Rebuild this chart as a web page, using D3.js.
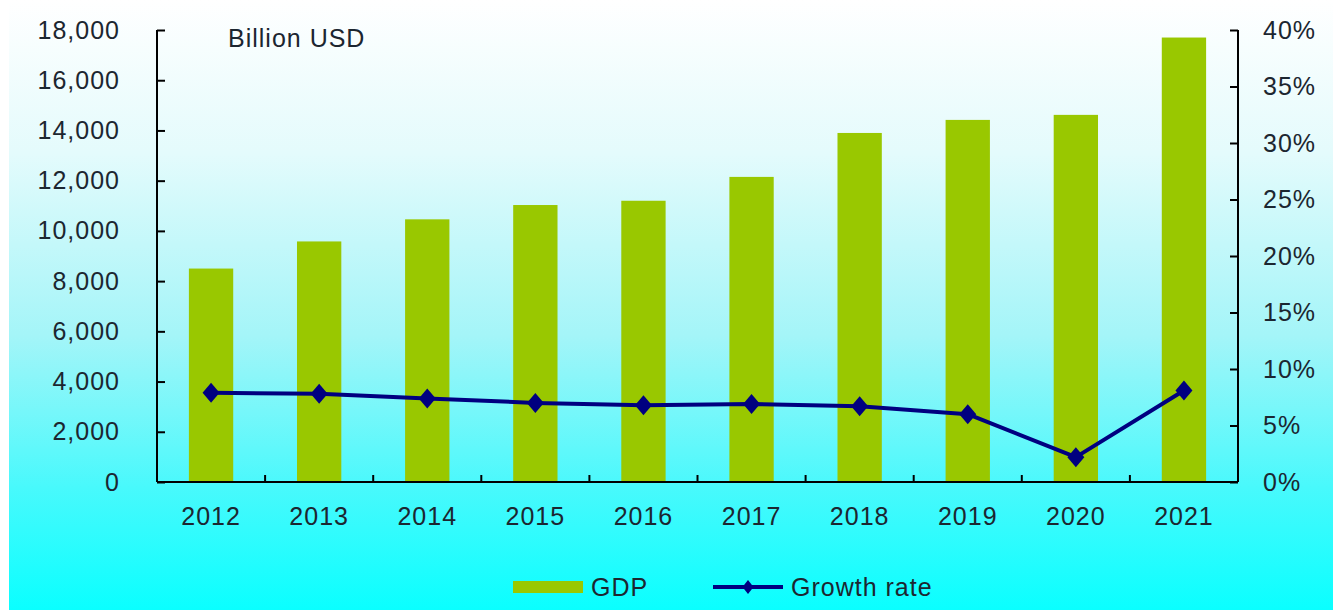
<!DOCTYPE html>
<html>
<head>
<meta charset="utf-8">
<script src="https://cdn.jsdelivr.net/npm/d3@7"></script>
<style>
  html, body { margin: 0; padding: 0; background: #fff; }
  svg { display: block; }
  text { font-family: "Liberation Sans", Arial, sans-serif; fill: #1c2630; }
</style>
</head>
<body>
<svg id="chart" width="1333" height="610"></svg>
<script>
// GDP (billion USD) and annual growth rate by year
const years = ["2012", "2013", "2014", "2015", "2016", "2017", "2018", "2019", "2020", "2021"];
const gdp = [8500, 9580, 10460, 11030, 11200, 12150, 13900, 14420, 14620, 17700];
const growth = [7.9, 7.8, 7.4, 7.0, 6.8, 6.9, 6.7, 6.0, 2.2, 8.1];
const gdpTicks = [0, 2000, 4000, 6000, 8000, 10000, 12000, 14000, 16000, 18000];
const rateTicks = [0, 5, 10, 15, 20, 25, 30, 35, 40];
const unitLabel = "Billion USD";
const seriesNames = ["GDP", "Growth rate"];

const W = 1333, H = 610;
const plotLeft = 157, plotRight = 1238, plotTop = 30, plotBottom = 482;
const barColor = "#99c800";
const lineColor = "#000080";

const svg = d3.select("#chart");

// background gradient: white at the top fading to cyan at the bottom
const defs = svg.append("defs");
const grad = defs.append("linearGradient")
  .attr("id", "bg").attr("x1", 0).attr("y1", 0).attr("x2", 0).attr("y2", 1);
grad.append("stop").attr("offset", "0%").attr("stop-color", "#ffffff");
grad.append("stop").attr("offset", "25%").attr("stop-color", "#e4fbfc");
grad.append("stop").attr("offset", "55%").attr("stop-color", "#a4f5f8");
grad.append("stop").attr("offset", "80%").attr("stop-color", "#48f9fc");
grad.append("stop").attr("offset", "100%").attr("stop-color", "#0affff");
svg.append("rect").attr("x", 9).attr("y", 0).attr("width", W - 9).attr("height", H).attr("fill", "url(#bg)");

const x = d3.scaleBand().domain(years).range([plotLeft, plotRight]).paddingInner(0.59).paddingOuter(0.295);
const yL = d3.scaleLinear().domain([0, 18000]).range([plotBottom, plotTop]);
const yR = d3.scaleLinear().domain([0, 40]).range([plotBottom, plotTop]);
const cx = d => x(d) + x.bandwidth() / 2;

// diamond marker path, slightly taller than wide
const diamondPath = (w, h) => `M0,${-h / 2}L${w / 2},0L0,${h / 2}L${-w / 2},0Z`;

// bars
svg.append("g").selectAll("rect").data(years).join("rect")
  .attr("x", d => x(d))
  .attr("width", x.bandwidth())
  .attr("y", (d, i) => yL(gdp[i]))
  .attr("height", (d, i) => yL(0) - yL(gdp[i]))
  .attr("fill", barColor);

// value axes, ticks pointing into the plot
const fmt = d3.format(",");
const axisL = svg.append("g").attr("transform", `translate(${plotLeft},0)`)
  .call(d3.axisLeft(yL).tickValues(gdpTicks).tickSize(-8).tickPadding(37).tickFormat(fmt));
const axisR = svg.append("g").attr("transform", `translate(${plotRight},0)`)
  .call(d3.axisRight(yR).tickValues(rateTicks).tickSize(-8).tickPadding(25).tickFormat(d => d + "%"));

[axisL, axisR].forEach(a => {
  a.select(".domain").attr("stroke", "#000").attr("stroke-width", 2)
    .attr("d", `M0,${plotBottom}V${plotTop}`);
  a.selectAll(".tick line").attr("stroke", "#000").attr("stroke-width", 2);
  a.selectAll(".tick text").attr("font-size", 25).attr("letter-spacing", 1)
    .attr("font-family", "Liberation Sans, Arial, sans-serif").attr("fill", "#1c2630");
});

// category axis with ticks on the category boundaries
const xb = svg.append("g").attr("transform", `translate(0,${plotBottom})`);
xb.append("line").attr("x1", plotLeft).attr("x2", plotRight).attr("stroke", "#000").attr("stroke-width", 2);
const step = x.step();
xb.selectAll("line.tk").data(d3.range(1, years.length)).join("line")
  .attr("class", "tk")
  .attr("x1", i => plotLeft + i * step).attr("x2", i => plotLeft + i * step)
  .attr("y1", 0).attr("y2", -7)
  .attr("stroke", "#000").attr("stroke-width", 2);
xb.selectAll("text").data(years).join("text")
  .attr("x", cx)
  .attr("y", 43)
  .attr("text-anchor", "middle")
  .attr("font-size", 25)
  .attr("letter-spacing", 1)
  .text(d => d);

// unit label
svg.append("text").attr("x", 228).attr("y", 47).attr("font-size", 25).attr("letter-spacing", 1).text(unitLabel);

// growth rate line with diamond markers
const line = d3.line()
  .x((d, i) => cx(years[i]))
  .y(d => yR(d));
svg.append("path").datum(growth)
  .attr("d", line)
  .attr("fill", "none")
  .attr("stroke", lineColor)
  .attr("stroke-width", 4)
  .attr("stroke-linejoin", "round");
svg.append("g").selectAll("path").data(growth).join("path")
  .attr("transform", (d, i) => `translate(${cx(years[i])},${yR(d)})`)
  .attr("d", diamondPath(17, 20))
  .attr("fill", lineColor);

// legend
const lg = svg.append("g");
lg.append("rect").attr("x", 513).attr("y", 581).attr("width", 70).attr("height", 12).attr("fill", barColor);
lg.append("text").attr("x", 591).attr("y", 596).attr("font-size", 25).attr("letter-spacing", 1).text(seriesNames[0]);
lg.append("line").attr("x1", 713).attr("x2", 783).attr("y1", 587).attr("y2", 587)
  .attr("stroke", lineColor).attr("stroke-width", 4);
lg.append("path").attr("transform", "translate(748,587)")
  .attr("d", diamondPath(11, 14)).attr("fill", lineColor);
lg.append("text").attr("x", 791).attr("y", 596).attr("font-size", 25).attr("letter-spacing", 1).text(seriesNames[1]);
</script>
</body>
</html>
